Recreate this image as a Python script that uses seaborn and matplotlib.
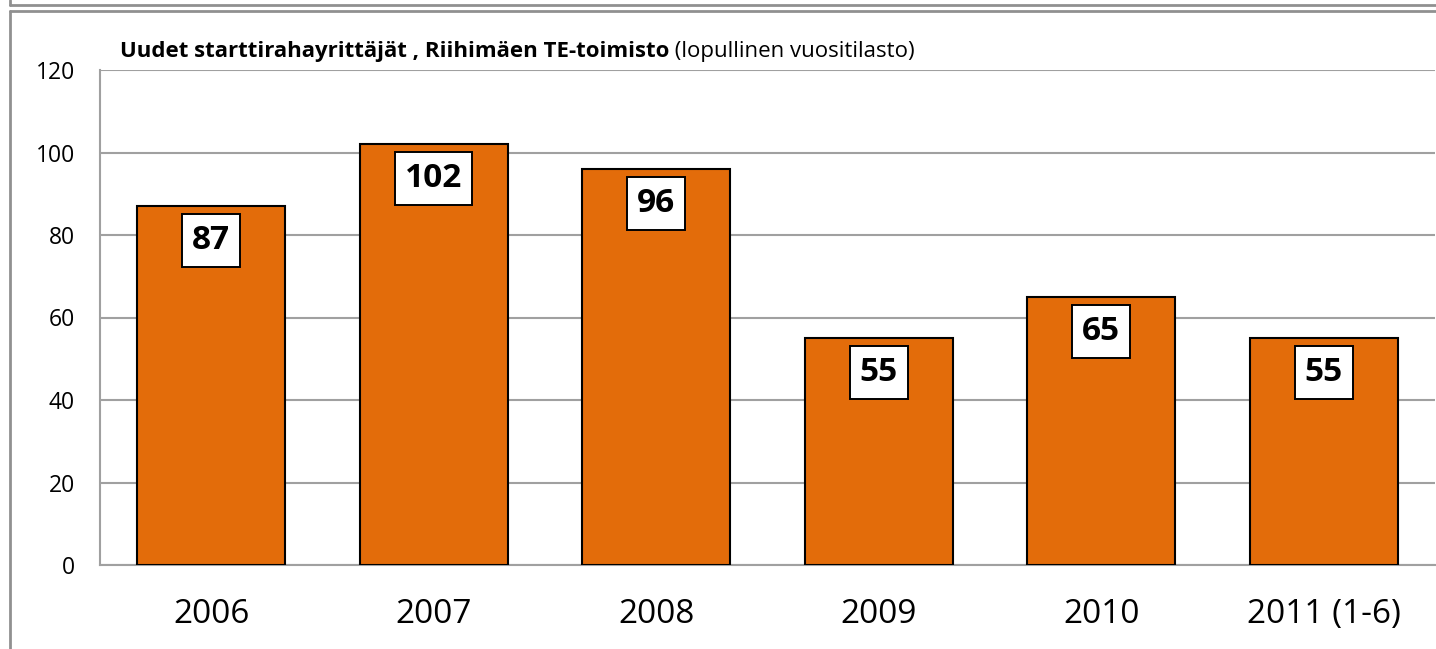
import matplotlib
matplotlib.use("Agg")
import matplotlib.pyplot as plt
import seaborn as sns
from matplotlib.lines import Line2D

years = ["2006", "2007", "2008", "2009", "2010", "2011 (1-6)"]
counts = [87, 102, 96, 55, 65, 55]
y_ticks = [0, 20, 40, 60, 80, 100, 120]

title_bold = "Uudet starttirahayrittäjät , Riihimäen TE-toimisto"
title_normal = " (lopullinen vuositilasto)"

sns.set_style("white")
plt.rcParams["font.family"] = ["Open Sans", "DejaVu Sans"]
plt.rcParams["text.color"] = "black"

W, H = 1436, 649
fig = plt.figure(figsize=(W / 100, H / 100), dpi=100)
ax = fig.add_axes([100 / W, 1 - 565 / H, 1335 / W, 495 / H])

orange = "#E36C0A"
grey = "#A0A0A0"

sns.barplot(x=years, y=counts, color=orange, width=0.665, edgecolor="black",
            linewidth=1.5, saturation=1, ax=ax, zorder=3)

ax.set_ylim(0, 120)
ax.set_xlim(-0.5, len(years) - 0.5)
ax.set_yticks(y_ticks)
ax.set_xlabel("")
ax.set_ylabel("")
ax.yaxis.grid(True, color=grey, linewidth=1.5, zorder=0)
ax.set_axisbelow(True)

for s in ["top", "right"]:
    ax.spines[s].set_visible(False)
for s in ["left", "bottom"]:
    ax.spines[s].set_color(grey)
    ax.spines[s].set_linewidth(1.5)

ax.tick_params(axis="y", labelsize=16.5, length=6, width=1.5, color=grey,
               labelcolor="black", pad=12)
ax.tick_params(axis="x", which="major", labelsize=24, length=0, pad=24,
               labelcolor="black")
ax.set_xticks([i - 0.5 for i in range(len(years) + 1)], minor=True)
ax.tick_params(axis="x", which="minor", length=8, width=1.5, color=grey)

for i, v in enumerate(counts):
    ax.annotate(str(v), xy=(i, v), xytext=(0, -25), textcoords="offset points",
                ha="center", va="center", fontsize=24, fontweight="bold",
                color="black", zorder=5,
                bbox=dict(boxstyle="square,pad=0.3", facecolor="white",
                          edgecolor="black", linewidth=1.4))

t1 = fig.text(120 / W, 1 - 57 / H, title_bold, fontsize=16, fontweight="bold",
              va="baseline", color="black")
fig.canvas.draw()
bb = t1.get_window_extent()
fig.text(bb.x1 / W, 1 - 57 / H, title_normal, fontsize=16, va="baseline",
         color="black")

# outer frame lines
fc = "#909090"
for xs, ys in [([10, 10], [0, 5]), ([10, W], [5, 5]), ([10, W], [11, 11]),
               ([10, 10], [11, H])]:
    fig.add_artist(Line2D([x / W for x in xs], [1 - y / H for y in ys],
                          color=fc, linewidth=2, transform=fig.transFigure))

fig.savefig("out.png", dpi=100)
